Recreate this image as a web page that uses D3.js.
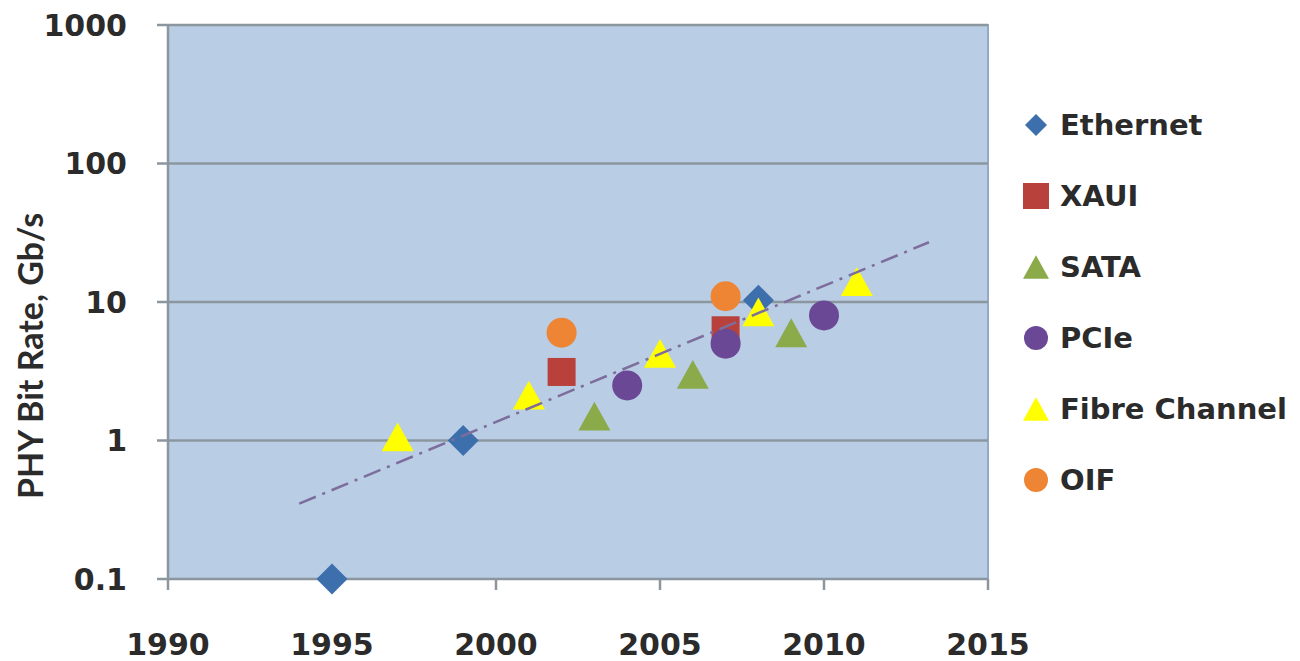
<!DOCTYPE html>
<html>
<head>
<meta charset="utf-8">
<script src="https://cdn.jsdelivr.net/npm/d3@7"></script>
<style>
  html, body { margin: 0; padding: 0; background: #ffffff; }
  svg { display: block; }
</style>
</head>
<body>
<svg id="chart" width="1300" height="661"></svg>
<script>
// PHY bit rate by year of introduction, per interface family
const seriesNames = ["Ethernet", "XAUI", "SATA", "PCIe", "Fibre Channel", "OIF"];
const ethernetYears = [1995, 1999, 2008];
const ethernetRates = [0.1, 1, 10.3125];
const xauiYears = [2002, 2007];
const xauiRates = [3.125, 6.25];
const sataYears = [2003, 2006, 2009];
const sataRates = [1.5, 3, 6];
const pcieYears = [2004, 2007, 2010];
const pcieRates = [2.5, 5, 8];
const fcYears = [1997, 2001, 2005, 2008, 2011];
const fcRates = [1.0625, 2.125, 4.25, 8.5, 14.025];
const oifYears = [2002, 2007];
const oifRates = [6, 11];
// exponential trend endpoints
const trendYears = [1994, 2013.2];
const trendRates = [0.35, 27];

const xTicks = [1990, 1995, 2000, 2005, 2010, 2015];
const yTicks = [0.1, 1, 10, 100, 1000];
const yTickLabels = ["0.1", "1", "10", "100", "1000"];
const yTitle = "PHY Bit Rate, Gb/s";

const seriesData = [
  { name: seriesNames[0], years: ethernetYears, rates: ethernetRates, shape: "diamond",  color: "#3d6fad" },
  { name: seriesNames[1], years: xauiYears,     rates: xauiRates,     shape: "square",   color: "#b8413b" },
  { name: seriesNames[2], years: sataYears,     rates: sataRates,     shape: "triangle", color: "#8bab4a" },
  { name: seriesNames[3], years: pcieYears,     rates: pcieRates,     shape: "circle",   color: "#6a4896" },
  { name: seriesNames[4], years: fcYears,       rates: fcRates,       shape: "triangle", color: "#ffff00" },
  { name: seriesNames[5], years: oifYears,      rates: oifRates,      shape: "circle",   color: "#ee8535" }
];

const svg = d3.select("#chart");
const plot = { left: 168, right: 988, top: 25, bottom: 579 };

const x = d3.scaleLinear().domain([1990, 2015]).range([plot.left, plot.right]);
const y = d3.scaleLog().domain([0.1, 1000]).range([plot.bottom, plot.top]);

// marker shapes, sized by half-extent r
function shapePath(shape, r) {
  const p = d3.path();
  if (shape === "diamond") {
    p.moveTo(0, -r); p.lineTo(r, 0); p.lineTo(0, r); p.lineTo(-r, 0); p.closePath();
  } else if (shape === "square") {
    p.rect(-r, -r, 2 * r, 2 * r);
  } else if (shape === "triangle") {
    const h = r * 0.9;
    p.moveTo(0, -h); p.lineTo(r, h); p.lineTo(-r, h); p.closePath();
  } else {
    p.arc(0, 0, r, 0, 2 * Math.PI);
  }
  return p.toString();
}
const markerR = { diamond: 15.5, square: 14, triangle: 16, circle: 15 };
const legendR = { diamond: 11, square: 13, triangle: 13, circle: 12 };

// plot area
svg.append("rect")
  .attr("x", plot.left).attr("y", plot.top)
  .attr("width", plot.right - plot.left).attr("height", plot.bottom - plot.top)
  .attr("fill", "#b9cde5")
  .attr("stroke", "#93a9c7").attr("stroke-width", 2);

// horizontal gridlines
svg.append("g").selectAll("line")
  .data(yTicks)
  .join("line")
  .attr("x1", plot.left - 11).attr("x2", plot.right)
  .attr("y1", d => y(d)).attr("y2", d => y(d))
  .attr("stroke", "#8c969f").attr("stroke-width", 2.5);

// vertical axis line
svg.append("line")
  .attr("x1", plot.left).attr("x2", plot.left)
  .attr("y1", plot.top).attr("y2", plot.bottom)
  .attr("stroke", "#8c969f").attr("stroke-width", 2.5);

// x ticks
svg.append("g").selectAll("line")
  .data(xTicks)
  .join("line")
  .attr("x1", d => x(d)).attr("x2", d => x(d))
  .attr("y1", plot.bottom).attr("y2", plot.bottom + 11)
  .attr("stroke", "#8c969f").attr("stroke-width", 2.5);

const tickFont = "'DejaVu Sans', Verdana, sans-serif";

svg.append("g").selectAll("text")
  .data(xTicks)
  .join("text")
  .attr("x", d => x(d)).attr("y", 655)
  .attr("text-anchor", "middle")
  .attr("font-family", tickFont).attr("font-weight", "bold").attr("font-size", 30)
  .attr("fill", "#2b2b2b")
  .text(d => d);

svg.append("g").selectAll("text")
  .data(yTicks)
  .join("text")
  .attr("x", 127).attr("y", d => y(d))
  .attr("dy", "0.36em")
  .attr("text-anchor", "end")
  .attr("font-family", tickFont).attr("font-weight", "bold").attr("font-size", 30)
  .attr("fill", "#2b2b2b")
  .text((d, i) => yTickLabels[i]);

// y axis title
svg.append("text")
  .attr("transform", "translate(31,356) rotate(-90)")
  .attr("text-anchor", "middle").attr("dy", "0.35em")
  .attr("font-family", "Lato, 'Open Sans', sans-serif").attr("font-weight", "bold").attr("font-size", 34)
  .attr("fill", "#2b2b2b")
  .text(yTitle);

// data markers
const markers = svg.append("g");
seriesData.forEach(s => {
  markers.append("g").selectAll("path")
    .data(s.years.map((yr, i) => ({ yr, v: s.rates[i] })))
    .join("path")
    .attr("transform", d => `translate(${x(d.yr)},${y(d.v)})`)
    .attr("d", shapePath(s.shape, markerR[s.shape]))
    .attr("fill", s.color);
});

// trend line
const trendLine = d3.line().x(d => x(d[0])).y(d => y(d[1]));
svg.append("path")
  .datum(trendYears.map((yr, i) => [yr, trendRates[i]]))
  .attr("d", trendLine)
  .attr("fill", "none")
  .attr("stroke", "#7d6d9c").attr("stroke-width", 2.5)
  .attr("stroke-dasharray", "18,7,3,7");

// legend
const legend = svg.append("g").attr("transform", "translate(1036,125)");
const rowGap = 71;
const rows = legend.selectAll("g")
  .data(seriesData)
  .join("g")
  .attr("transform", (d, i) => `translate(0,${i * rowGap})`);
rows.append("path")
  .attr("d", d => shapePath(d.shape, legendR[d.shape]))
  .attr("fill", d => d.color);
rows.append("text")
  .attr("x", 24).attr("dy", "0.36em")
  .attr("font-family", tickFont).attr("font-weight", "bold").attr("font-size", 29)
  .attr("fill", "#2b2b2b")
  .text(d => d.name);
</script>
</body>
</html>
